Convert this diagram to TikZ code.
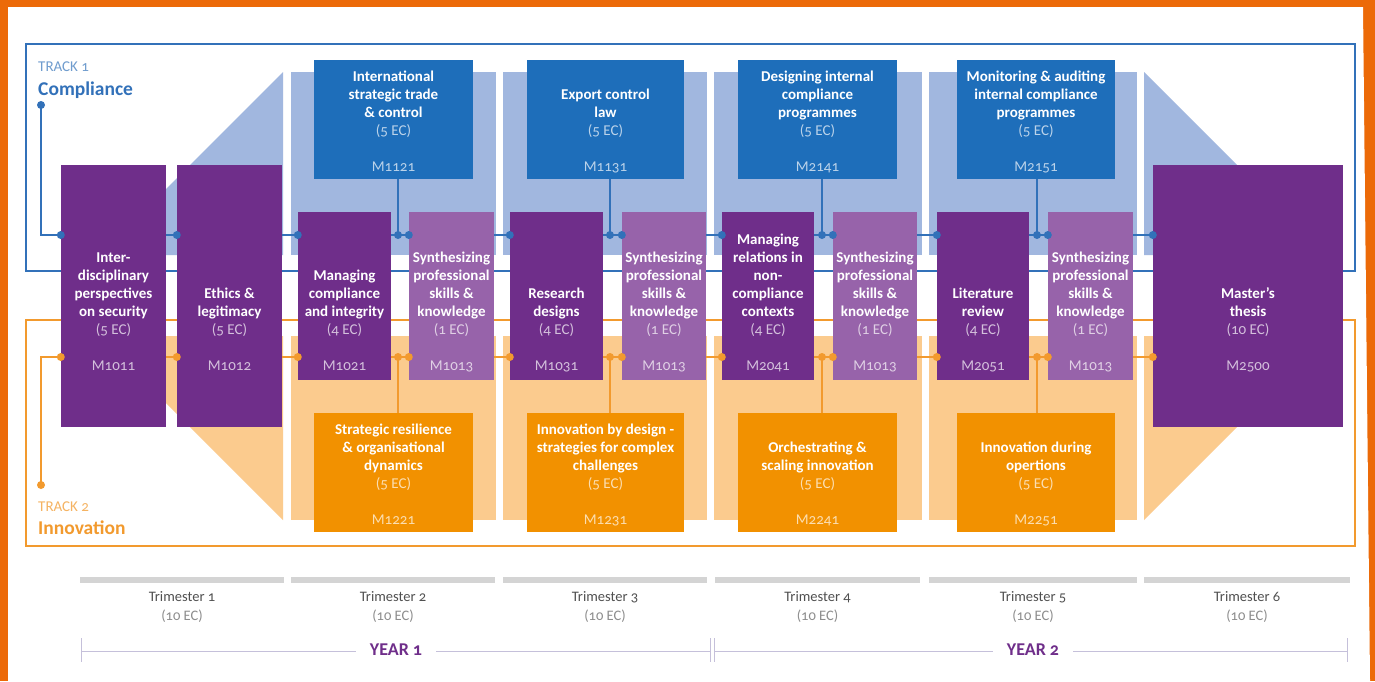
\documentclass[tikz,border=0pt]{standalone}
\usepackage{fontspec}
\setmainfont{Carlito}[Numbers=OldStyle]
\usepackage{tikz}
\usetikzlibrary{
  positioning,%
  calc
}
\definecolor{crspurple}{RGB}{111,46,138}
\definecolor{crslilac}{RGB}{151,99,170}
\definecolor{crsblue}{RGB}{30,110,186}
\definecolor{crsorange}{RGB}{242,145,0}
\definecolor{panelblue}{RGB}{161,183,223}
\definecolor{panelorange}{RGB}{251,203,142}
\definecolor{lineblue}{RGB}{50,113,185}
\definecolor{lineorange}{RGB}{242,154,46}
\definecolor{frameorange}{RGB}{236,106,8}
\definecolor{bargray}{RGB}{212,212,212}
\definecolor{scalegray}{RGB}{197,192,218}
\definecolor{trigray}{RGB}{80,80,80}
\tikzset{>=latex}
\tikzset{course/.style={fill=#1, draw=none, inner sep=0pt}}
\tikzset{coursetext/.style={text=white, align=center, inner sep=0pt, text depth=0pt,
  anchor=south, font=\fontsize{15}{18}\selectfont\bfseries}}
\tikzset{bluelink/.style={lineblue, line width=2pt},
  orangelink/.style={lineorange, line width=2pt}}
\tikzset{linkdot/.style={circle, fill=#1, inner sep=0pt, minimum size=8pt}}
\tikzset{tritext/.style={align=center, inner sep=0pt, text depth=0pt, anchor=south,
  text=trigray, font=\fontsize{14.5}{19}\selectfont}}
\tikzset{yeartext/.style={fill=white, text=crspurple, inner ysep=2pt, inner xsep=14pt,
  font=\fontsize{18}{20}\selectfont\bfseries}}

\begin{document}
\begin{tikzpicture}[x=1pt, y=-1pt]
  \useasboundingbox (0,0) rectangle (1375,681);
  % outer frame
  \fill[frameorange] (0,0) rectangle (1375,681);
  \fill[white] (8,7) -- (1363,7) -- (1370,681) -- (8,681) -- cycle;

  % the two tracks
  \draw[lineblue, line width=1.5pt] (26,44) rectangle (1355,271);
  \draw[lineorange, line width=1.5pt] (26,320) rectangle (1355,546);

  % trimester panels
  \foreach \xa/\xb in {291/496, 503/707, 714/922, 929/1137} {
    \fill[panelblue] (\xa,72) rectangle (\xb,255);
    \fill[panelorange] (\xa,336) rectangle (\xb,520);
  }
  \fill[panelblue] (283,72) -- (283,255) -- (100,255) -- cycle;
  \fill[panelblue] (1144,72) -- (1144,255) -- (1327,255) -- cycle;
  \fill[panelorange] (283,520) -- (283,336) -- (99,336) -- cycle;
  \fill[panelorange] (1144,520) -- (1144,336) -- (1328,336) -- cycle;

  \node[anchor=base west, inner sep=0pt, text=lineblue!70, font=\fontsize{15}{18}\selectfont] (trk1) at (38,71) {TRACK 1};
  \node[anchor=base west, inner sep=0pt, text=lineblue, font=\fontsize{19.5}{22}\selectfont\bfseries] (cmp) at (38,95) {Compliance};
  \node[anchor=base west, inner sep=0pt, text=lineorange!75, font=\fontsize{15}{18}\selectfont] (trk2) at (38,511) {TRACK 2};
  \node[anchor=base west, inner sep=0pt, text=lineorange, font=\fontsize{19.5}{22}\selectfont\bfseries] (inn) at (38,534) {Innovation};

  % main lines
  \node[linkdot=lineblue] (b0) at (41,105) {};
  \node[linkdot=lineorange] (o0) at (41,485) {};
  \coordinate (b1) at (1153,235);
  \coordinate (o1) at (1153,357);
  \draw[bluelink] (b0.center) |- (b1);
  \draw[orangelink] (o0.center) |- (o1);

  % courses
  \foreach \nm/\clr/\xa/\ya/\xb/\yb/\yc/\ttl/\ec/\cid in {
    m1011/crspurple/61/165/166/427/371/{Inter-\\disciplinary\\perspectives\\on security}/5/M1011,
    m1012/crspurple/177/165/282/427/371/{Ethics \&\\legitimacy}/5/M1012,
    m1021/crspurple/298/212/391/380/371/{Managing\\compliance\\and integrity}/4/M1021,
    m1013a/crslilac/409/212/494/380/371/{Synthesizing\\professional\\skills \&\\knowledge}/1/M1013,
    m1031/crspurple/510/212/603/380/371/{Research\\designs}/4/M1031,
    m1013b/crslilac/622/212/706/380/371/{Synthesizing\\professional\\skills \&\\knowledge}/1/M1013,
    m2041/crspurple/722/212/814/380/371/{Managing\\relations in\\non-\\compliance\\contexts}/4/M2041,
    m1013c/crslilac/833/212/917/380/371/{Synthesizing\\professional\\skills \&\\knowledge}/1/M1013,
    m2051/crspurple/937/212/1029/380/371/{Literature\\review}/4/M2051,
    m1013d/crslilac/1048/212/1133/380/371/{Synthesizing\\professional\\skills \&\\knowledge}/1/M1013,
    m2500/crspurple/1153/165/1343/427/371/{Master's\\thesis}/10/M2500,
    m1121/crsblue/314/60/473/179/172/{International\\strategic trade\\\& control}/5/M1121,
    m1131/crsblue/527/60/684/179/172/{Export control\\law}/5/M1131,
    m2141/crsblue/738/60/897/179/172/{Designing internal\\compliance\\programmes}/5/M2141,
    m2151/crsblue/957/60/1115/179/172/{Monitoring \& auditing\\internal compliance\\programmes}/5/M2151,
    m1221/crsorange/314/413/473/532/525/{Strategic resilience\\\& organisational\\dynamics}/5/M1221,
    m1231/crsorange/527/413/684/532/525/{Innovation by design -\\strategies for complex\\challenges}/5/M1231,
    m2241/crsorange/738/413/897/532/525/{Orchestrating \&\\scaling innovation}/5/M2241,
    m2251/crsorange/957/413/1115/532/525/{Innovation during\\opertions}/5/M2251} {
    \node[course=\clr, minimum width={(\xb-\xa)*1pt}, minimum height={(\yb-\ya)*1pt}]
      (\nm) at ({(\xa+\xb)/2},{(\ya+\yb)/2}) {};
    \node[coursetext] (\nm-txt) at ({(\xa+\xb)/2},\yc)
      {\ttl\\{\mdseries\color{white!70!\clr}(\ec\ EC)}\\[18pt]{\mdseries\color{white!70!\clr}\cid}};
  }

  % links to the electives
  \foreach \i/\j/\up/\dn in {1/398/m1121/m1221, 2/610/m1131/m1231, 3/822/m2141/m2241, 4/1037/m2151/m2251} {
    \coordinate (jb\i) at (\j,235);
    \coordinate (jo\i) at (\j,357);
    \draw[bluelink] (\up.south -| jb\i) -- (jb\i);
    \draw[orangelink] (jo\i) -- (\dn.north -| jo\i);
    \node[linkdot=lineblue] (jbd\i) at (jb\i) {};
    \node[linkdot=lineorange] (jod\i) at (jo\i) {};
  }
  \foreach \b in {m1011, m1012, m1021, m1013a, m1031, m1013b, m2041, m1013c, m2051, m1013d, m2500} {
    \node[linkdot=lineblue] (\b-bd) at (\b.west |- b1) {};
    \node[linkdot=lineorange] (\b-od) at (\b.west |- o1) {};
  }

  % trimesters
  \foreach \i/\xa/\xb in {1/80/284, 2/291/495, 3/503/707, 4/715/920, 5/929/1137, 6/1144/1350} {
    \fill[bargray] (\xa,577) rectangle (\xb,583);
    \node[tritext] (tri\i) at ({(\xa+\xb)/2},621) {Trimester \i\\{\color{trigray!65}(10 EC)}};
  }
  \draw[scalegray, line width=1pt] (81,651) -- (710,651) (714,651) -- (1347,651);
  \foreach \x in {81, 710, 714, 1347}
    \draw[scalegray, line width=1pt] (\x,638) -- (\x,662);
  \node[yeartext] (yr1) at (396,650) {YEAR 1};
  \node[yeartext] (yr2) at (1033,650) {YEAR 2};
\end{tikzpicture}
\end{document}
